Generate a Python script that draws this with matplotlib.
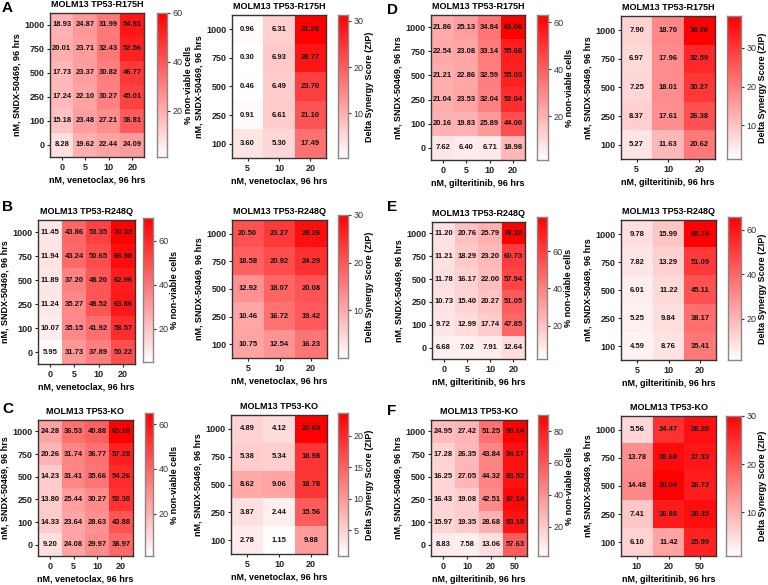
import matplotlib
matplotlib.use("Agg")
import matplotlib.pyplot as plt
import numpy as np
from matplotlib.colors import LinearSegmentedColormap

plt.rcParams['font.family'] = ['Liberation Sans', 'DejaVu Sans']

# ---------------- data ----------------
sndx_full = ["1000", "750", "500", "250", "100", "0"]
sndx_syn = ["1000", "750", "500", "250", "100"]
ven_full = ["0", "5", "10", "20"]
ven_syn = ["5", "10", "20"]
gil_full = ["0", "5", "10", "20"]
gil_syn = ["5", "10", "20"]
gil_full_ko = ["0", "10", "20", "50"]
gil_syn_ko = ["10", "20", "50"]

A_via = [[18.93, 24.87, 31.99, 54.81],
         [20.01, 23.71, 32.43, 52.56],
         [17.73, 23.37, 30.82, 46.77],
         [17.24, 22.10, 30.27, 45.01],
         [15.18, 23.48, 27.21, 38.81],
         [8.28, 19.62, 22.44, 24.09]]
A_syn = [[0.96, 6.31, 31.29],
         [0.30, 6.93, 28.77],
         [0.46, 6.49, 23.70],
         [0.91, 6.61, 21.10],
         [3.60, 5.30, 17.49]]
D_via = [[21.86, 25.13, 34.84, 63.06],
         [22.54, 23.08, 33.14, 55.68],
         [21.21, 22.86, 32.59, 55.03],
         [21.04, 23.53, 32.04, 52.04],
         [20.16, 19.83, 25.89, 44.00],
         [7.62, 6.40, 6.71, 18.98]]
D_syn = [[7.90, 18.70, 38.26],
         [6.97, 17.96, 32.59],
         [7.25, 18.01, 30.27],
         [8.37, 17.61, 26.38],
         [5.27, 11.63, 20.62]]
B_via = [[11.45, 43.86, 53.35, 70.33],
         [11.94, 43.24, 50.65, 66.98],
         [11.89, 37.20, 48.20, 62.96],
         [11.24, 35.27, 48.52, 63.86],
         [10.07, 35.15, 41.92, 58.57],
         [5.95, 31.73, 37.89, 50.22]]
B_syn = [[20.50, 23.27, 28.26],
         [18.58, 20.92, 24.29],
         [12.92, 18.07, 20.08],
         [10.46, 16.72, 19.42],
         [10.75, 12.54, 16.23]]
E_via = [[11.20, 20.76, 25.79, 78.32],
         [11.21, 18.29, 23.20, 60.73],
         [11.78, 16.17, 22.00, 57.94],
         [10.73, 15.40, 20.27, 51.05],
         [9.72, 12.99, 17.74, 47.85],
         [6.68, 7.02, 7.91, 12.64]]
E_syn = [[9.78, 15.99, 65.74],
         [7.82, 13.29, 51.09],
         [6.01, 11.22, 45.11],
         [5.25, 9.84, 38.17],
         [4.59, 8.76, 35.41]]
C_via = [[24.28, 36.53, 40.88, 65.10],
         [20.26, 31.74, 36.77, 57.28],
         [14.23, 31.41, 35.66, 54.26],
         [13.80, 25.44, 30.27, 52.30],
         [14.33, 23.64, 28.63, 43.88],
         [9.20, 24.08, 29.97, 38.97]]
C_syn = [[4.89, 4.12, 23.63],
         [5.38, 5.34, 18.98],
         [8.62, 9.06, 18.78],
         [3.87, 2.44, 15.56],
         [2.78, 1.15, 9.88]]
F_via = [[24.95, 27.42, 51.25, 90.14],
         [17.28, 26.35, 43.84, 84.17],
         [16.25, 27.05, 44.32, 83.52],
         [16.43, 19.08, 42.51, 87.14],
         [15.97, 19.35, 28.68, 83.18],
         [8.83, 7.58, 13.06, 57.63]]
F_syn = [[5.56, 24.47, 28.20],
         [13.78, 28.68, 27.33],
         [14.48, 30.04, 26.73],
         [7.41, 26.88, 28.35],
         [6.10, 11.42, 25.99]]

titles = {"A": "MOLM13 TP53-R175H", "B": "MOLM13 TP53-R248Q", "C": "MOLM13 TP53-KO",
          "D": "MOLM13 TP53-R175H", "E": "MOLM13 TP53-R248Q", "F": "MOLM13 TP53-KO"}

# ---------------- style ----------------
W, H = 768, 585
fig = plt.figure(figsize=(W / 100, H / 100), dpi=100)
cmap = LinearSegmentedColormap.from_list("wr", ["#FFFFFF", "#FF0000"])

def rect(x0, y0, x1, y1):
    return [x0 / W, 1 - y1 / H, (x1 - x0) / W, (y1 - y0) / H]

FS = 6.5

def heat(ax_r, cb_r, data, xl, yl, xlabel, title, cblabel, vmin, vmax, cbticks):
    ax = fig.add_axes(rect(*ax_r))
    arr = np.array(data)
    nr, nc = arr.shape
    ax.imshow(arr, cmap=cmap, vmin=vmin, vmax=vmax, aspect='auto',
              interpolation='nearest')
    for i in range(nr):
        for j in range(nc):
            ax.text(j, i, f"{arr[i, j]:.2f}", ha='center', va='center',
                    fontsize=5.5, fontweight='bold', color='#111111')
    ax.set_xticks(range(nc))
    ax.set_xticklabels(xl)
    ax.set_yticks(range(nr))
    ax.set_yticklabels(yl)
    ax.tick_params(labelsize=6.5, length=2.5, width=0.8, pad=1.5, colors='#222222')
    for lab in ax.get_xticklabels() + ax.get_yticklabels():
        lab.set_fontweight('bold')
    for s in ax.spines.values():
        s.set_linewidth(1.0)
        s.set_color('#333333')
    ax.set_xlabel(xlabel, fontsize=FS, fontweight='bold', labelpad=3)
    ax.set_ylabel("nM, SNDX-50469, 96 hrs", fontsize=FS, fontweight='bold', labelpad=2)
    ax.set_title(title, fontsize=FS, fontweight='bold', pad=4)
    cax = fig.add_axes(rect(*cb_r))
    grad = np.linspace(vmin, vmax, 256).reshape(-1, 1)
    cax.imshow(grad, cmap=cmap, vmin=vmin, vmax=vmax, aspect='auto', origin='lower',
               extent=[0, 1, vmin, vmax])
    cax.set_xticks([])
    cax.yaxis.tick_right()
    cax.yaxis.set_label_position('right')
    cax.set_yticks(cbticks)
    cax.set_yticklabels([str(t) for t in cbticks])
    cax.tick_params(labelsize=6.5, length=2.5, width=0.8, pad=1.5, colors='#333333')
    cax.set_ylabel(cblabel, fontsize=FS, fontweight='bold', labelpad=1)
    for s in cax.spines.values():
        s.set_linewidth(1.0)
        s.set_color('#888888')
    return ax

VIA = "% non-viable cells"
SYN = "Delta Synergy Score (ZIP)"
VEN = "nM, venetoclax, 96 hrs"
GIL = "nM, gilteritinib, 96 hrs"

# Row 1
heat((50, 13, 144, 157), (157, 13, 167, 157), A_via, ven_full, sndx_full, VEN, titles["A"], VIA, 1, 60, [20, 40, 60])
heat((232, 15, 326, 158), (338, 15, 348, 158), A_syn, ven_syn, sndx_syn, VEN, titles["A"], SYN, 0.3, 31.29, [10, 20, 30])
heat((431, 15, 525, 160), (537, 15, 548, 160), D_via, gil_full, sndx_full, GIL, titles["D"], VIA, 1.4, 63.06, [20, 40, 60])
heat((621, 16, 715, 159), (727, 16, 741, 159), D_syn, gil_syn, sndx_syn, GIL, titles["D"], SYN, 1.3, 38.26, [10, 20, 30])
# Row 2
heat((38, 220, 135, 364), (143, 218, 153, 362), B_via, ven_full, sndx_full, VEN, titles["B"], VIA, 5, 70.33, [20, 40, 60])
heat((232, 220, 327, 358), (338, 215, 348, 358), B_syn, ven_syn, sndx_syn, VEN, titles["B"], SYN, 0, 30, [10, 20, 30])
heat((432, 222, 525, 359), (537, 217, 547, 359), E_via, gil_full, sndx_full, GIL, titles["E"], VIA, 2.2, 78.32, [20, 40, 60])
heat((621, 220, 716, 360), (728, 217, 741, 360), E_syn, gil_syn, sndx_syn, GIL, titles["E"], SYN, 1.3, 65.74, [20, 40, 60])
# Row 3
heat((38, 420, 133, 556), (145, 413, 153, 556), C_via, ven_full, sndx_full, VEN, titles["C"], VIA, 1, 65.1, [20, 40, 60])
heat((231, 415, 327, 554), (338, 413, 348, 556), C_syn, ven_syn, sndx_syn, VEN, titles["C"], SYN, 0.95, 23.63, [5, 10, 15, 20])
heat((431, 420, 527, 556), (538, 415, 548, 556), F_via, gil_full_ko, sndx_full, GIL, titles["F"], VIA, 1.6, 90.14, [20, 40, 60, 80])
heat((621, 416, 716, 556), (726, 416, 741, 556), F_syn, gil_syn_ko, sndx_syn, GIL, titles["F"], SYN, 0.9, 30, [10, 20, 30])

# Panel letters
for letter, (x, y) in {"A": (2, 1), "B": (2, 200), "C": (2, 402), "D": (387, 3), "E": (387, 200), "F": (387, 404)}.items():
    fig.text(x / W, 1 - y / H, letter, fontsize=11, fontweight='bold', va='top', ha='left')

fig.savefig("out.png", dpi=100)
